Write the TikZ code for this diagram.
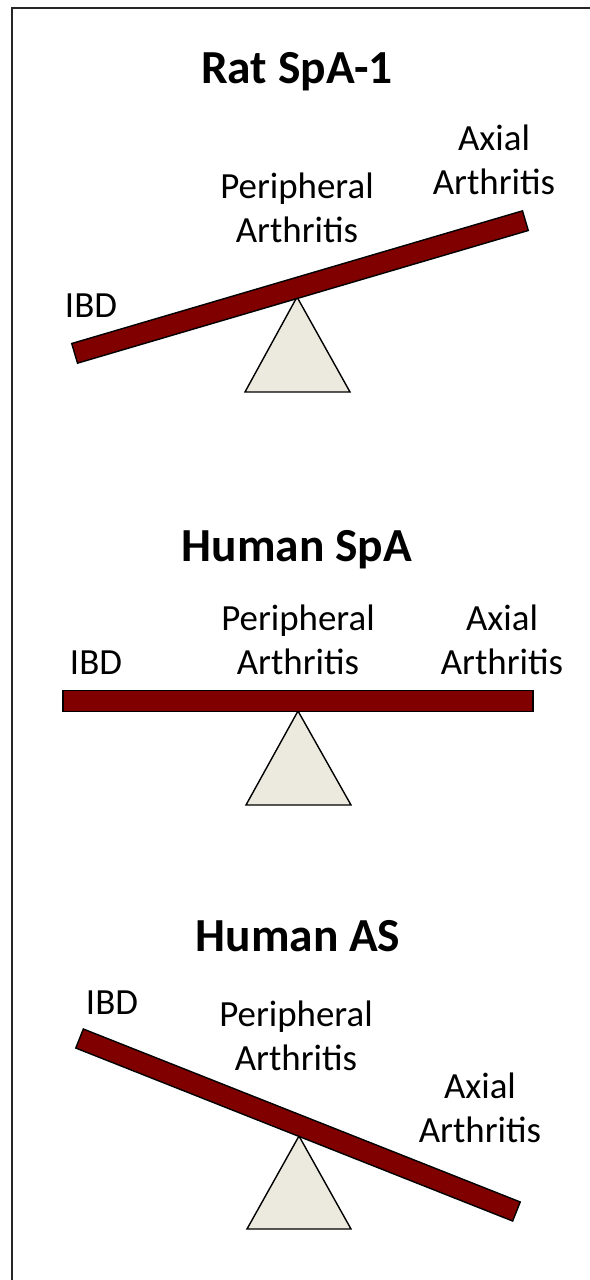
\documentclass[tikz,border=0pt]{standalone}
\usepackage{fontspec}
\setmainfont{Carlito}
\usepackage{xcolor}
\usetikzlibrary{positioning}
\definecolor{beamred}{HTML}{800000}
\definecolor{baseFill}{HTML}{ECEADF}

\begin{document}
\begin{tikzpicture}[x=0.02cm,y=0.02cm,
  ttl/.style={font=\fontsize{27}{30}\selectfont\bfseries},
  lbl/.style={align=center,font=\fontsize{21}{25}\selectfont,inner sep=0pt},
  beam/.style={draw=black,fill=beamred,line width=0.8pt,minimum width=9.4cm,minimum height=0.41cm,inner sep=0pt},
  fulcrum/.style={draw=black,fill=baseFill,line width=0.8pt,line join=miter}
]
  \useasboundingbox (0,0) rectangle (590,-1280);
  \draw[line width=1.2pt,black!85] (12,-1282) -- (12,-8) -- (592,-8);

  \node[ttl] (t1) at (297,-72) {Rat SpA-1};
  \node[lbl] (ibd1) at (91,-306) {IBD};
  \node[lbl] (per1) at (297,-208) {Peripheral\\Arthritis};
  \node[lbl] (ax1)  at (494,-160) {Axial\\Arthritis};
  \draw[fulcrum] (297,-297) -- (350,-392) -- (245,-392) -- cycle;
  \node[beam,rotate=16.4] (b1) at (300,-287) {};

  \node[ttl] (t2) at (297,-550) {Human SpA};
  \node[lbl] (ibd2) at (96,-663) {IBD};
  \node[lbl] (per2) at (298,-640) {Peripheral\\Arthritis};
  \node[lbl] (ax2)  at (502,-640) {Axial\\Arthritis};
  \draw[fulcrum] (298,-711) -- (351,-805) -- (246,-805) -- cycle;
  \node[beam] (b2) at (298,-701) {};

  \node[ttl] (t3) at (298,-936) {Human AS};
  \node[lbl] (ibd3) at (112,-1003) {IBD};
  \node[lbl] (per3) at (296,-1036) {Peripheral\\Arthritis};
  \node[lbl] (ax3)  at (480,-1108) {Axial\\Arthritis};
  \draw[fulcrum] (299,-1136) -- (351,-1229) -- (247,-1229) -- cycle;
  \node[beam,rotate=-21.6] (b3) at (298,-1125) {};
\end{tikzpicture}
\end{document}
